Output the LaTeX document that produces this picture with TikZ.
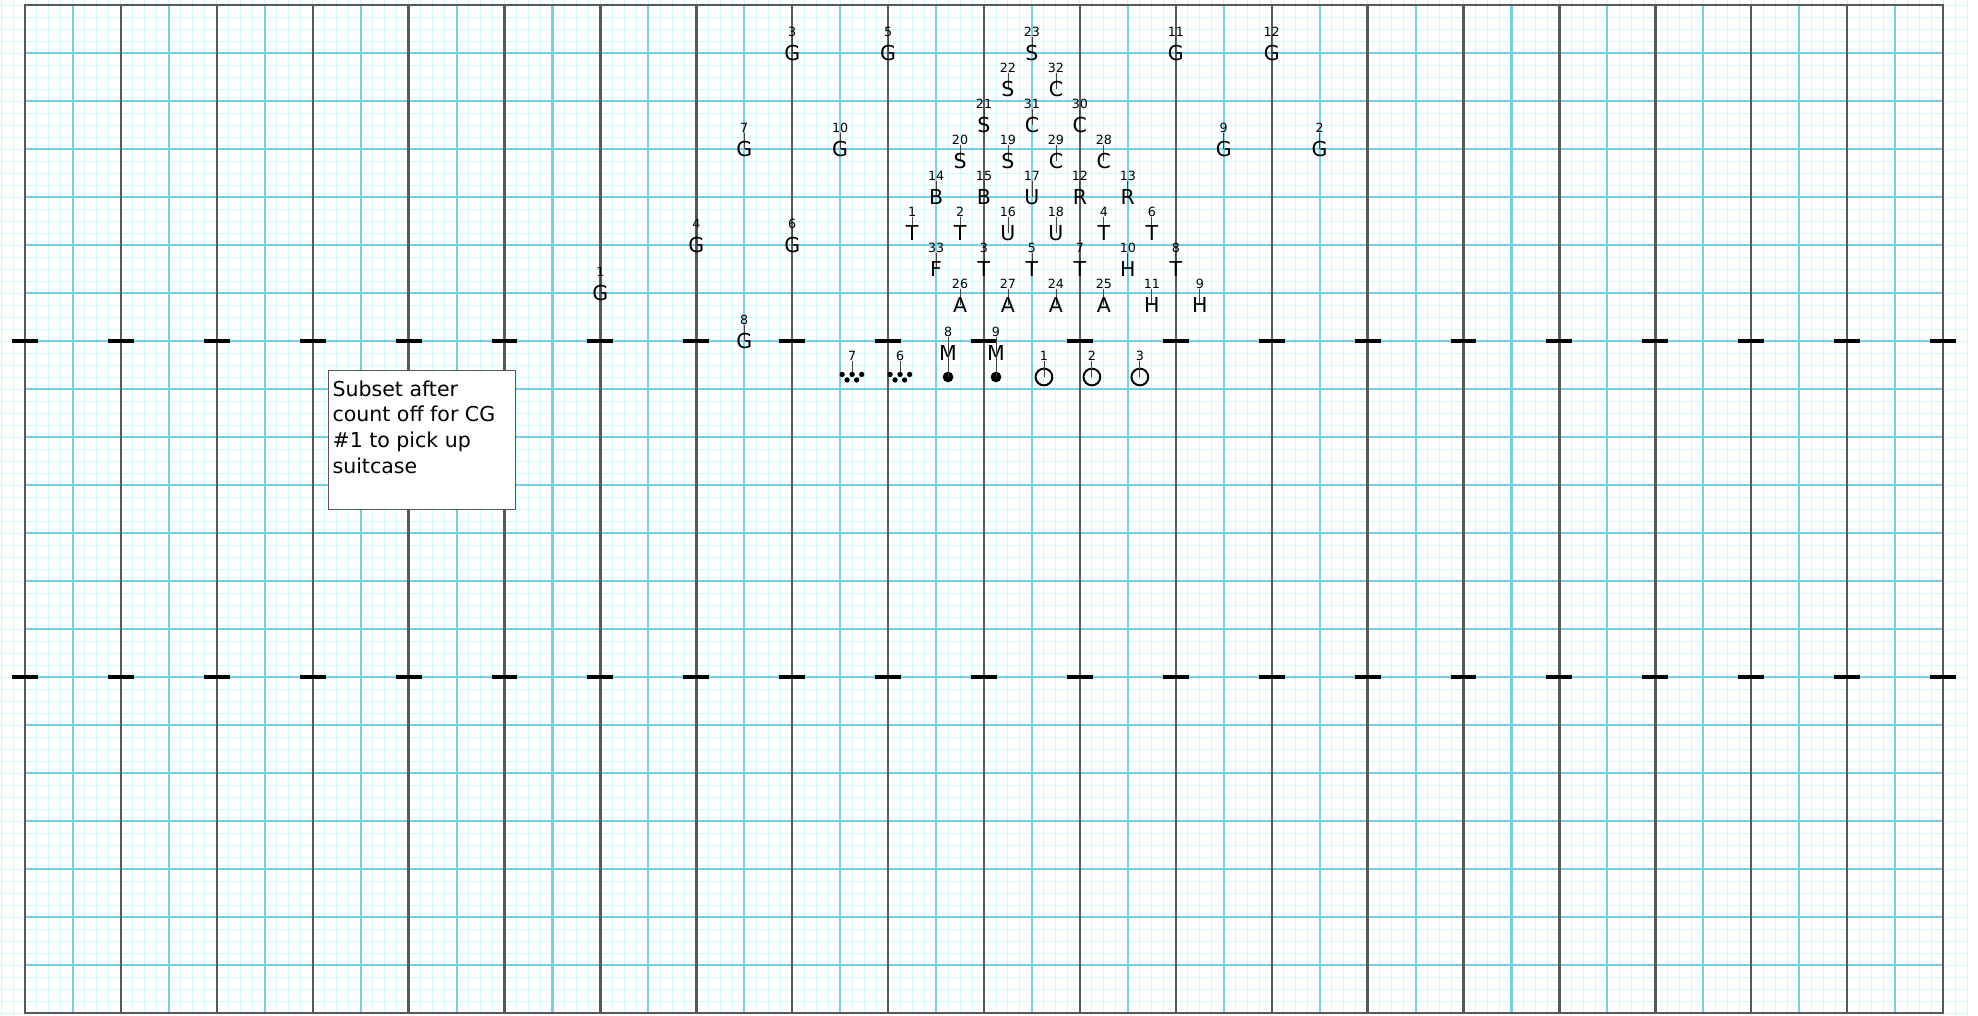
\documentclass[tikz,border=0pt]{standalone}
\usepackage{fontspec}
\setmainfont{DejaVu Sans}

\definecolor{darkline}{RGB}{88,88,88}
\definecolor{cyanline}{RGB}{116,208,228}
\definecolor{paleline}{RGB}{205,247,250}

\tikzset{
  gridfine/.style={paleline, line width=0.7pt},
  gridcyan/.style={cyanline, line width=1.5pt},
  griddark/.style={darkline, line width=1.7pt},
  hashmark/.style={black, line width=2.2pt},
  pinletter/.style={inner sep=0pt, text depth=0pt, font=\fontsize{14.6}{17}\selectfont},
  numlbl/.style={inner sep=0pt, text depth=0pt, font=\fontsize{9}{10}\selectfont},
  pintick/.style={black!75, line width=0.6pt, shorten <=0.6pt},
  ballmark/.style={circle, fill=black, inner sep=0pt, minimum size=7.6pt},
  ringmark/.style={circle, draw=black, line width=1.4pt, inner sep=0pt, minimum size=11.9pt},
  notebox/.style={draw=darkline, fill=white, line width=0.8pt, inner xsep=0.1cm, inner ysep=0.25cm,
    font=\fontsize{14.6}{18.3}\selectfont}
}

% letter with its number pinned above
\newcommand{\pinmark}[4]{%
  \coordinate (#1c) at (#2);
  \node[numlbl] (#1n) at ([yshift=0.54cm]#1c) {#4};
  \draw[pintick] (#1n.south) -- (#1c);
  \node[pinletter] (#1) at (#1c) {#3};
}
% open circle with its number
\newcommand{\ringpin}[3]{%
  \node[ringmark] (#1) at (#2) {};
  \node[numlbl] (#1n) at ([yshift=0.54cm]#1.center) {#3};
  \draw[pintick] (#1n.south) -- (#1.center);
}
% cluster of five dots with its number
\newcommand{\dotpin}[3]{%
  \coordinate (#1) at (#2);
  \node[numlbl] (#1n) at ([yshift=0.54cm]#1) {#3};
  \draw[pintick] (#1n.south) -- ([yshift=1.8pt]#1);
  \foreach \ox/\oy in {-7.1/1.8, 0/1.8, 6.8/1.8, -3.6/-2.1, 3.2/-2.1}
    \fill ([shift={(\ox pt,\oy pt)}]#1) circle (1.9pt);
}

\begin{document}
\begin{tikzpicture}[x=1.19875cm, y=-1.2cm]
    \useasboundingbox (-0.5214,-0.1042) rectangle (40.73,21.042);
    \fill[white] (-0.5214,-0.1042) rectangle (40.73,21.042);

    % field grid
    \draw[gridfine] \foreach \gx in {-0.5,-0.25,...,40.6} {(\gx,-0.11) -- (\gx,21.05)};
    \draw[gridfine] \foreach \gy in {0,0.25,...,21.1} {(-0.53,\gy) -- (40.5,\gy)};
    \draw[gridcyan] \foreach \gy in {1,...,20} {(0,\gy) -- (40,\gy)};
    \draw[gridcyan] \foreach \gx in {1,3,...,39} {(\gx,0) -- (\gx,21)};
    \draw[griddark] \foreach \gx in {2,4,...,38} {(\gx,0) -- (\gx,21)};
    \draw[griddark] (0,0) rectangle (40,21);

    % hash marks
    \draw[hashmark] \foreach \gx in {0,2,...,40} {(\gx-0.27,7) -- (\gx+0.27,7) (\gx-0.27,14) -- (\gx+0.27,14)};

    % note
    \node[notebox, anchor=north west] (note) at (6.319,7.604)
      {\parbox[t][2.975cm][t]{4.475cm}{Subset after\\count off for CG\\\#1 to pick up\\suitcase}};

    % guards
    \pinmark{g3}{16,1}{G}{3}
    \pinmark{g5}{18,1}{G}{5}
    \pinmark{g11}{24,1}{G}{11}
    \pinmark{g12}{26,1}{G}{12}
    \pinmark{g7}{15,3}{G}{7}
    \pinmark{g10}{17,3}{G}{10}
    \pinmark{g9}{25,3}{G}{9}
    \pinmark{g2}{27,3}{G}{2}
    \pinmark{g4}{14,5}{G}{4}
    \pinmark{g6}{16,5}{G}{6}
    \pinmark{g1}{12,6}{G}{1}
    \pinmark{g8}{15,7}{G}{8}

    % block
    \pinmark{s23}{21,1}{S}{23}
    \pinmark{s22}{20.5,1.75}{S}{22}
    \pinmark{c32}{21.5,1.75}{C}{32}
    \pinmark{s21}{20,2.5}{S}{21}
    \pinmark{c31}{21,2.5}{C}{31}
    \pinmark{c30}{22,2.5}{C}{30}
    \pinmark{s20}{19.5,3.25}{S}{20}
    \pinmark{s19}{20.5,3.25}{S}{19}
    \pinmark{c29}{21.5,3.25}{C}{29}
    \pinmark{c28}{22.5,3.25}{C}{28}
    \pinmark{b14}{19,4}{B}{14}
    \pinmark{b15}{20,4}{B}{15}
    \pinmark{u17}{21,4}{U}{17}
    \pinmark{r12}{22,4}{R}{12}
    \pinmark{r13}{23,4}{R}{13}
    \pinmark{t1}{18.5,4.75}{T}{1}
    \pinmark{t2}{19.5,4.75}{T}{2}
    \pinmark{u16}{20.5,4.75}{U}{16}
    \pinmark{u18}{21.5,4.75}{U}{18}
    \pinmark{t4}{22.5,4.75}{T}{4}
    \pinmark{t6}{23.5,4.75}{T}{6}
    \pinmark{f33}{19,5.5}{F}{33}
    \pinmark{t3}{20,5.5}{T}{3}
    \pinmark{t5}{21,5.5}{T}{5}
    \pinmark{t7}{22,5.5}{T}{7}
    \pinmark{h10}{23,5.5}{H}{10}
    \pinmark{t8}{24,5.5}{T}{8}
    \pinmark{a26}{19.5,6.25}{A}{26}
    \pinmark{a27}{20.5,6.25}{A}{27}
    \pinmark{a24}{21.5,6.25}{A}{24}
    \pinmark{a25}{22.5,6.25}{A}{25}
    \pinmark{h11}{23.5,6.25}{H}{11}
    \pinmark{h9}{24.5,6.25}{H}{9}

    % front line
    \dotpin{d7}{17.25,7.75}{7}
    \dotpin{d6}{18.25,7.75}{6}
    \pinmark{m8}{19.25,7.25}{M}{8}
    \node[ballmark] (m8b) at (19.25,7.75) {};
    \draw[pintick] (m8c) -- (m8b.center);
    \pinmark{m9}{20.25,7.25}{M}{9}
    \node[ballmark] (m9b) at (20.25,7.75) {};
    \draw[pintick] (m9c) -- (m9b.center);
    \ringpin{o1}{21.25,7.75}{1}
    \ringpin{o2}{22.25,7.75}{2}
    \ringpin{o3}{23.25,7.75}{3}
\end{tikzpicture}
\end{document}
